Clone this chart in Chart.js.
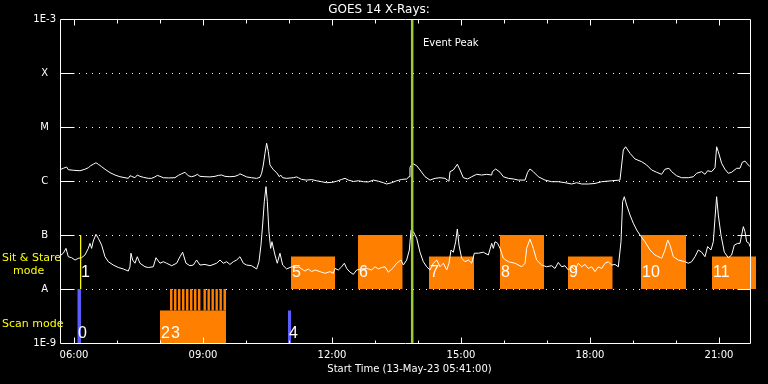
<!DOCTYPE html>
<html>
<head>
<meta charset="utf-8">
<script src="https://cdn.jsdelivr.net/npm/chart.js@4.4.1/dist/chart.umd.min.js"></script>
<style>
html,body{margin:0;padding:0;background:#000;overflow:hidden;}
#wrap{width:768px;height:384px;position:relative;}
</style>
</head>
<body>
<div id="wrap"><canvas id="c" width="768" height="384"></canvas></div>
<script>
// ---------- axis definitions ----------
const levelValues = [1e-9, 1e-8, 1e-7, 1e-6, 1e-5, 1e-4, 1e-3];
const levelLabels = ['1E-9', 'A', 'B', 'C', 'M', 'X', '1E-3'];
const hourTicks = [6, 7, 8, 9, 10, 11, 12, 13, 14, 15, 16, 17, 18, 19, 20, 21];
const hourTickLabels = ['06:00', '', '', '09:00', '', '', '12:00', '', '', '15:00', '', '', '18:00', '', '', '21:00'];
const timeMin = 5.698;     // 05:41 start (hours of day)
const timeMax = 21.907;
const frameEnd = 21.721;   // right edge of plot frame (hours)

// ---------- GOES 14 long channel (1-8 A), W/m^2 ----------
const longTimes = [5.698,5.752,5.829,5.868,5.984,6.139,6.255,6.333,6.387,6.449,6.511,6.565,6.643,6.721,6.837,6.953,7.069,7.186,7.263,7.302,7.341,7.418,7.472,7.534,7.612,7.728,7.806,7.883,7.938,7.999,8.077,8.193,8.348,8.426,8.503,8.581,8.658,8.736,8.814,8.868,8.930,9.046,9.162,9.279,9.356,9.434,9.511,9.627,9.744,9.821,9.860,9.922,10.015,10.131,10.248,10.325,10.364,10.403,10.442,10.480,10.519,10.558,10.635,10.713,10.775,10.806,10.853,10.945,11.100,11.178,11.218,11.295,11.411,11.528,11.644,11.760,11.876,11.993,12.109,12.225,12.303,12.380,12.497,12.613,12.729,12.845,12.962,13.078,13.194,13.272,13.388,13.504,13.621,13.737,13.791,13.814,13.869,13.969,14.047,14.163,14.279,14.396,14.512,14.628,14.721,14.744,14.822,14.915,14.977,15.054,15.155,15.249,15.365,15.481,15.597,15.714,15.729,15.807,15.908,15.985,16.101,16.217,16.334,16.489,16.550,16.604,16.682,16.798,16.953,17.108,17.263,17.418,17.573,17.690,17.806,17.961,18.116,18.271,18.504,18.697,18.736,18.775,18.829,18.930,19.046,19.201,19.318,19.434,19.550,19.666,19.744,19.837,19.899,20.015,20.131,20.286,20.403,20.480,20.597,20.674,20.736,20.829,20.907,20.945,20.984,21.062,21.139,21.217,21.294,21.411,21.488,21.542,21.604,21.682,21.721];
const longFlux = [1.65e-6,1.72e-6,1.82e-6,1.62e-6,1.58e-6,1.55e-6,1.65e-6,1.76e-6,1.92e-6,2.04e-6,2.18e-6,2.04e-6,1.84e-6,1.65e-6,1.43e-6,1.29e-6,1.20e-6,1.15e-6,1.12e-6,1.25e-6,1.22e-6,1.15e-6,1.29e-6,1.22e-6,1.17e-6,1.12e-6,1.12e-6,1.19e-6,1.27e-6,1.22e-6,1.15e-6,1.14e-6,1.15e-6,1.27e-6,1.36e-6,1.45e-6,1.25e-6,1.20e-6,1.25e-6,1.33e-6,1.22e-6,1.20e-6,1.19e-6,1.22e-6,1.27e-6,1.29e-6,1.22e-6,1.20e-6,1.22e-6,1.29e-6,1.36e-6,1.29e-6,1.19e-6,1.15e-6,1.12e-6,1.17e-6,1.39e-6,1.98e-6,3.26e-6,5.0e-6,3.5e-6,1.98e-6,1.62e-6,1.43e-6,1.20e-6,1.29e-6,1.15e-6,1.12e-6,1.15e-6,1.19e-6,1.15e-6,1.07e-6,1.04e-6,1.06e-6,1.01e-6,0.97e-6,0.93e-6,0.94e-6,0.99e-6,1.07e-6,1.12e-6,1.04e-6,0.98e-6,1.01e-6,0.97e-6,0.96e-6,1.04e-6,0.99e-6,0.93e-6,0.88e-6,0.93e-6,1.01e-6,1.07e-6,1.09e-6,1.20e-6,1.76e-6,2.12e-6,1.92e-6,1.60e-6,1.20e-6,1.04e-6,1.12e-6,1.15e-6,1.12e-6,0.99e-6,1.49e-6,1.60e-6,2.04e-6,1.60e-6,1.15e-6,1.09e-6,1.20e-6,1.33e-6,1.29e-6,1.33e-6,1.29e-6,1.49e-6,1.67e-6,1.45e-6,1.20e-6,1.12e-6,1.09e-6,1.04e-6,1.04e-6,1.45e-6,1.67e-6,1.49e-6,1.20e-6,1.04e-6,0.97e-6,0.97e-6,0.93e-6,0.88e-6,0.93e-6,0.88e-6,0.88e-6,0.90e-6,0.97e-6,1.01e-6,1.04e-6,1.98e-6,3.75e-6,4.3e-6,3.26e-6,2.56e-6,2.28e-6,1.98e-6,1.60e-6,1.45e-6,1.33e-6,1.65e-6,1.72e-6,1.49e-6,1.25e-6,1.15e-6,1.15e-6,1.20e-6,1.39e-6,1.49e-6,1.33e-6,1.55e-6,1.49e-6,1.76e-6,4.3e-6,3.5e-6,2.12e-6,1.65e-6,1.39e-6,1.45e-6,1.72e-6,1.72e-6,2.22e-6,2.34e-6,1.98e-6,1.84e-6];

// ---------- GOES 14 short channel (0.5-4 A), W/m^2 ----------
const shortTimes = [5.698,5.752,5.814,5.868,5.945,6.023,6.100,6.178,6.255,6.333,6.372,6.410,6.449,6.511,6.565,6.643,6.721,6.798,6.914,7.031,7.147,7.263,7.302,7.325,7.364,7.418,7.472,7.534,7.651,7.728,7.845,7.907,7.999,8.077,8.155,8.271,8.387,8.465,8.527,8.604,8.697,8.775,8.852,8.930,9.046,9.162,9.317,9.395,9.472,9.550,9.627,9.705,9.782,9.860,9.938,10.015,10.131,10.248,10.302,10.348,10.387,10.426,10.465,10.496,10.534,10.573,10.604,10.674,10.728,10.790,10.853,10.945,11.062,11.178,11.218,11.295,11.373,11.450,11.528,11.605,11.721,11.838,11.954,12.031,12.070,12.148,12.225,12.287,12.342,12.419,12.497,12.574,12.690,12.807,12.923,13.000,13.078,13.155,13.233,13.311,13.427,13.504,13.605,13.660,13.737,13.799,13.838,13.892,13.969,14.047,14.124,14.202,14.279,14.357,14.435,14.512,14.590,14.667,14.721,14.768,14.822,14.876,14.915,14.954,15.016,15.093,15.171,15.248,15.311,15.404,15.520,15.636,15.714,15.752,15.791,15.853,15.908,15.985,16.101,16.256,16.411,16.489,16.527,16.604,16.682,16.759,16.876,16.992,17.108,17.186,17.263,17.341,17.418,17.496,17.573,17.651,17.728,17.806,17.883,17.961,18.039,18.116,18.194,18.271,18.349,18.426,18.504,18.581,18.659,18.721,18.759,18.798,18.852,18.930,19.007,19.085,19.163,19.279,19.395,19.511,19.666,19.744,19.806,19.860,19.938,20.054,20.209,20.286,20.364,20.441,20.519,20.597,20.674,20.736,20.813,20.868,20.907,20.945,20.984,21.046,21.124,21.217,21.294,21.356,21.434,21.488,21.527,21.566,21.604,21.643,21.697,21.721];
const shortFlux = [4.26e-8,4.6e-8,5.65e-8,3.96e-8,3.8e-8,3.44e-8,3.7e-8,3.8e-8,4.26e-8,5.65e-8,7.0e-8,5.65e-8,7.74e-8,1.03e-7,8.7e-8,6.5e-8,3.96e-8,3.2e-8,2.78e-8,2.5e-8,2.35e-8,2.15e-8,2.58e-8,4.6e-8,3.44e-8,3.0e-8,3.96e-8,3.0e-8,2.58e-8,2.5e-8,2.58e-8,3.8e-8,3.0e-8,3.2e-8,3.0e-8,2.7e-8,3.0e-8,3.96e-8,4.8e-8,3.0e-8,2.7e-8,2.78e-8,3.44e-8,2.78e-8,2.85e-8,2.7e-8,3.0e-8,3.44e-8,3.0e-8,3.2e-8,2.85e-8,3.2e-8,3.44e-8,3.96e-8,3.0e-8,2.78e-8,2.7e-8,2.35e-8,3.2e-8,6.5e-8,1.53e-7,4.15e-7,7.85e-7,4.15e-7,1.15e-7,5.65e-8,7.5e-8,4.26e-8,3.0e-8,4.6e-8,2.78e-8,2.35e-8,2.58e-8,2.5e-8,2.58e-8,2.35e-8,2.15e-8,2.35e-8,2.1e-8,2.25e-8,2.1e-8,1.95e-8,2.1e-8,1.95e-8,2.4e-8,2.25e-8,2.58e-8,3.0e-8,2.4e-8,2.05e-8,1.87e-8,2.25e-8,2.35e-8,2.4e-8,2.25e-8,2.58e-8,2.35e-8,2.5e-8,2.58e-8,2.05e-8,2.5e-8,3.0e-8,3.44e-8,2.78e-8,3.44e-8,5.27e-8,1.24e-7,1.15e-7,8.7e-8,4.8e-8,3.2e-8,2.58e-8,2.25e-8,3.0e-8,3.44e-8,2.58e-8,3.0e-8,2.25e-8,3.0e-8,5.27e-8,4.8e-8,7.5e-8,1.29e-7,6.5e-8,3.7e-8,3.2e-8,3.44e-8,3.0e-8,4.6e-8,4.6e-8,4.8e-8,4.26e-8,7.0e-8,5.65e-8,7.5e-8,7.0e-8,5.65e-8,3.7e-8,3.2e-8,3.0e-8,2.58e-8,3.0e-8,5.65e-8,8.4e-8,5.65e-8,3.44e-8,2.78e-8,2.58e-8,2.7e-8,2.4e-8,3.1e-8,2.58e-8,2.7e-8,2.25e-8,2.58e-8,2.25e-8,3.0e-8,2.58e-8,2.85e-8,2.4e-8,2.58e-8,2.1e-8,2.58e-8,2.4e-8,3.0e-8,3.2e-8,2.78e-8,2.85e-8,2.58e-8,7.5e-8,4.15e-7,5.12e-7,3.59e-7,2.35e-7,1.65e-7,1.24e-7,1.0e-7,7.5e-8,5.27e-8,4.26e-8,3.7e-8,5.27e-8,8.1e-8,6.5e-8,3.96e-8,3.44e-8,3.2e-8,3.0e-8,3.2e-8,3.96e-8,5.27e-8,4.8e-8,3.96e-8,6.1e-8,5.27e-8,7.5e-8,2.03e-7,5.12e-7,2.35e-7,1.0e-7,4.8e-8,3.8e-8,4.26e-8,6.5e-8,7.0e-8,7.0e-8,1.0e-7,1.43e-7,1.15e-7,7.5e-8,7.0e-8,6.1e-8];

// ---------- observation boxes (sit & stare / scan) ----------
const boxIds    = ['0', '1', '2', '4', '5', '6', '7', '8', '9', '10', '11'];
const boxMode   = ['scan', 'stare', 'scan', 'scan', 'stare', 'stare', 'stare', 'stare', 'stare', 'stare', 'stare'];
const boxKind   = ['short', 'marker', 'long', 'short', 'long', 'long', 'long', 'long', 'long', 'long', 'long'];
const boxStart  = [6.077, 6.145, 8.000, 10.977, 11.047, 12.605, 14.256, 15.907, 17.488, 19.186, 20.837];
const boxEnd    = [6.163, 6.160, 9.535, 11.047, 12.070, 13.644, 15.302, 16.930, 18.528, 20.233, 21.860];
const boxLow    = [1e-9, 1e-8, 1e-9, 1e-9, 1e-8, 1e-8, 1e-8, 1e-8, 1e-8, 1e-8, 1e-8];
const boxHigh   = [1e-8, 1e-7, 4e-9, 4e-9, 4e-8, 1e-7, 4e-8, 1e-7, 4e-8, 1e-7, 4e-8];

// raster comb (observation 3)
const combId = '3';
const combMode = 'scan';
const combStart = [8.233, 8.326, 8.419, 8.512, 8.605, 8.698, 8.791, 8.884, 9.007, 9.100, 9.193, 9.286, 9.379, 9.472];
const combEnd   = [8.295, 8.388, 8.481, 8.574, 8.667, 8.760, 8.853, 8.946, 9.069, 9.162, 9.255, 9.348, 9.441, 9.535];
const combLow = 4e-9, combHigh = 1e-8;

// event marker
const eventTimes = [13.865];
const eventNames = ['Event Peak'];

// ---------- styles ----------
const WHITE = '#ffffff';
const ORANGE = '#ff8000';
const BLUE = '#5c5cff';
const YELLOW = '#ffff00';
const EVENT_GREEN = '#9acd32';
const kindColor = { short: BLUE, marker: YELLOW, long: ORANGE };
const labelLevel = { stare: 1.67e-8, scan: 1.24e-9 };

const datasets = [];
eventTimes.forEach(t => datasets.push({
  data: [{ x: t, y: levelValues[0] }, { x: t, y: levelValues[levelValues.length - 1] }],
  borderColor: EVENT_GREEN, borderWidth: 2.5, pointRadius: 0, fill: false
}));
datasets.push({
  data: longTimes.map((t, i) => ({ x: t, y: longFlux[i] })),
  borderColor: WHITE, borderWidth: 1, pointRadius: 0, fill: false
});
datasets.push({
  data: shortTimes.map((t, i) => ({ x: t, y: shortFlux[i] })),
  borderColor: WHITE, borderWidth: 1, pointRadius: 0, fill: false
});
boxIds.forEach((id, i) => {
  const c = kindColor[boxKind[i]];
  datasets.push({
    data: [{ x: boxStart[i], y: boxLow[i] }, { x: boxStart[i], y: boxHigh[i] },
           { x: boxEnd[i], y: boxHigh[i] }, { x: boxEnd[i], y: boxLow[i] }],
    borderColor: c, backgroundColor: c,
    borderWidth: boxKind[i] === 'marker' ? 1 : 0,
    pointRadius: 0, fill: { value: boxLow[i] }, clip: false
  });
});
combStart.forEach((s, i) => {
  datasets.push({
    data: [{ x: s, y: combLow }, { x: s, y: combHigh }, { x: combEnd[i], y: combHigh }, { x: combEnd[i], y: combLow }],
    borderColor: ORANGE, backgroundColor: ORANGE, borderWidth: 0,
    pointRadius: 0, fill: { value: combLow }, clip: false
  });
});

const FONT = '"DejaVu Sans", sans-serif';

const framePlugin = {
  id: 'goesFrame',
  beforeDatasetsDraw(chart) {
    const { ctx, chartArea, scales: { x: xs, y: ys } } = chart;
    const L = chartArea.left - 1;
    const R = Math.round(xs.getPixelForValue(frameEnd));
    ctx.save();
    ctx.fillStyle = WHITE;
    levelValues.slice(1, -1).forEach(v => {
      const y = Math.round(ys.getPixelForValue(v));
      for (let x = L + 19; x < R - 14; x += 6.67) ctx.fillRect(Math.round(x), y, 1, 1);
    });
    ctx.restore();
  },
  afterDatasetsDraw(chart) {
    const { ctx, chartArea, scales: { x: xs, y: ys } } = chart;
    const L = chartArea.left - 0.5;
    const R = Math.round(xs.getPixelForValue(frameEnd)) + 0.5;
    const T = chartArea.top + 0.5;
    const B = chartArea.bottom + 0.5;
    ctx.save();
    ctx.strokeStyle = WHITE;
    ctx.lineWidth = 1;
    ctx.beginPath();
    ctx.rect(L, T, R - L, B - T);
    levelValues.slice(1, -1).forEach(v => {
      const y = Math.round(ys.getPixelForValue(v)) + 0.5;
      ctx.moveTo(L, y); ctx.lineTo(L + 14, y);
      ctx.moveTo(R - 13, y); ctx.lineTo(R, y);
    });
    hourTicks.forEach((h, i) => {
      const x = Math.round(xs.getPixelForValue(h)) + 0.5;
      const major = hourTickLabels[i] !== '';
      ctx.moveTo(x, B); ctx.lineTo(x, B - (major ? 6 : 3));
      ctx.moveTo(x, T); ctx.lineTo(x, T + (major ? 6 : 4));
    });
    ctx.stroke();

    ctx.fillStyle = WHITE;
    ctx.font = '16px "Liberation Sans", sans-serif';
    ctx.textBaseline = 'alphabetic';
    ctx.textAlign = 'left';
    boxIds.forEach((id, i) => {
      const x = Math.round(xs.getPixelForValue(boxStart[i])) + 1;
      const y = Math.round(ys.getPixelForValue(labelLevel[boxMode[i]]));
      ctx.fillText(id, x, y);
    });
    ctx.fillText(combId, Math.round(xs.getPixelForValue(combStart[0])) + 1,
                 Math.round(ys.getPixelForValue(labelLevel[combMode])));

    ctx.font = '10px ' + FONT;
    ctx.textBaseline = 'middle';
    eventTimes.forEach((t, i) => {
      ctx.fillText(eventNames[i], Math.round(xs.getPixelForValue(t)) + 11, chartArea.top + 24);
    });
    ctx.restore();
  },
  afterDraw(chart) {
    const { ctx, scales: { y: ys } } = chart;
    const yA = ys.getPixelForValue(1e-8), yB = ys.getPixelForValue(1e-7), yMin = ys.getPixelForValue(1e-9);
    const midStare = (yA + yB) / 2, midScan = (yA + yMin) / 2;
    ctx.save();
    ctx.fillStyle = YELLOW;
    ctx.font = '11px ' + FONT;
    ctx.textBaseline = 'middle';
    ctx.textAlign = 'left';
    ctx.fillText('Sit & Stare', 2, midStare - 4);
    ctx.fillText('mode', 13, midStare + 9);
    ctx.fillText('Scan mode', 2, midScan + 8);
    ctx.restore();
  }
};

new Chart(document.getElementById('c'), {
  type: 'line',
  data: { datasets },
  options: {
    responsive: false,
    animation: false,
    devicePixelRatio: 1,
    events: [],
    layout: { padding: { left: 0, right: 10, top: 0, bottom: 0 } },
    elements: { line: { tension: 0 }, point: { radius: 0 } },
    plugins: {
      legend: { display: false },
      tooltip: { enabled: false },
      title: {
        display: true, text: 'GOES 14 X-Rays:', color: WHITE,
        font: { family: FONT, size: 12, weight: 'normal' },
        padding: { top: 3, bottom: 1.6 }
      }
    },
    scales: {
      x: {
        type: 'linear', min: timeMin, max: timeMax,
        grid: { display: false, drawTicks: false }, border: { display: false },
        afterBuildTicks: s => { s.ticks = hourTicks.map(h => ({ value: h })); },
        afterFit: s => { s.height = 41; },
        ticks: {
          color: WHITE, font: { family: FONT, size: 10 }, padding: 6,
          autoSkip: false, maxRotation: 0,
          callback: (v, i) => hourTickLabels[i]
        },
        title: {
          display: true, text: 'Start Time (13-May-23 05:41:00)', color: WHITE,
          font: { family: FONT, size: 10 }, padding: { top: 0, bottom: 9 }
        }
      },
      y: {
        type: 'logarithmic', min: levelValues[0], max: levelValues[levelValues.length - 1],
        grid: { display: false, drawTicks: false }, border: { display: false },
        afterBuildTicks: s => { s.ticks = levelValues.map(v => ({ value: v })); },
        afterFit: s => { s.width = 61; },
        ticks: {
          color: WHITE, font: { family: FONT, size: 10 }, padding: 5,
          crossAlign: 'center', autoSkip: false,
          callback: (v, i) => levelLabels[i]
        }
      }
    }
  },
  plugins: [framePlugin]
});
</script>
</body>
</html>
